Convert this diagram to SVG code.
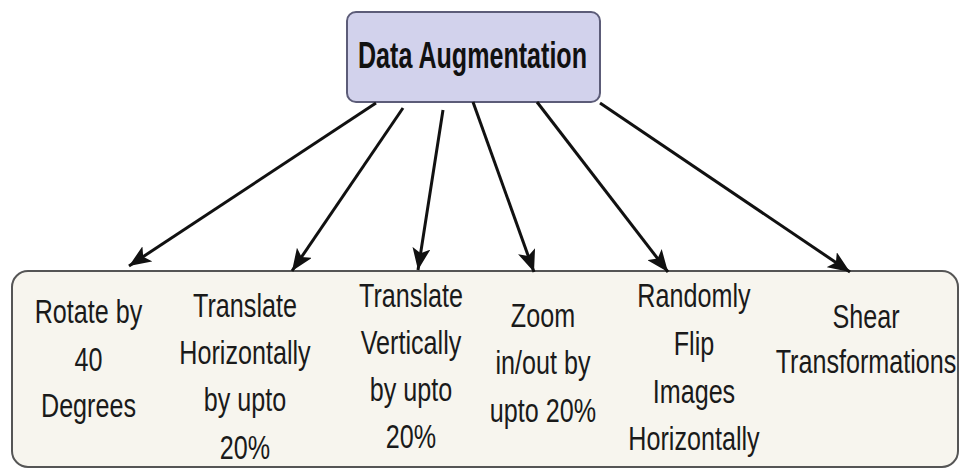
<svg xmlns="http://www.w3.org/2000/svg" width="961" height="470" viewBox="0 0 961 470">
  <defs>
    <style>
      .lbl { font-family: "Liberation Sans", Arial, sans-serif; font-size: 34px; fill: #1a1a1a; text-anchor: middle; }
      .title { font-family: "Liberation Sans", Arial, sans-serif; font-size: 36px; font-weight: bold; fill: #111111; text-anchor: middle; }
      .conn { stroke: #111111; stroke-width: 3; fill: none; marker-end: url(#arrow); }
    </style>
    <marker id="arrow" markerUnits="userSpaceOnUse" viewBox="0 0 22 18" markerWidth="22" markerHeight="18" refX="22" refY="9" orient="auto">
      <path d="M0,0 L22,9 L0,18 L5,9 Z" fill="#111111"/>
    </marker>
  </defs>
  <rect width="961" height="470" fill="#ffffff"/>

  <g id="node-data-augmentation">
    <rect x="347" y="12" width="253" height="90" rx="9" ry="9" fill="#d2d2ec" stroke="#5c5c78" stroke-width="2"/>
    <text class="title" x="472.5" y="68" textLength="229" lengthAdjust="spacingAndGlyphs">Data Augmentation</text>
  </g>

  <g id="node-techniques">
    <rect x="12" y="271" width="946" height="196" rx="16" ry="16" fill="#f7f5ee" stroke="#555555" stroke-width="2"/>
    <g transform="scale(0.74 1)">
      <g id="node-rotate">
        <text class="lbl" x="119.6" y="323">Rotate by</text>
        <text class="lbl" x="119.6" y="371">40</text>
        <text class="lbl" x="119.6" y="417">Degrees</text>
      </g>
      <g id="node-translate-h">
        <text class="lbl" x="331.1" y="317">Translate</text>
        <text class="lbl" x="331.1" y="364">Horizontally</text>
        <text class="lbl" x="331.1" y="411">by upto</text>
        <text class="lbl" x="331.1" y="459">20%</text>
      </g>
      <g id="node-translate-v">
        <text class="lbl" x="555.4" y="307">Translate</text>
        <text class="lbl" x="555.4" y="354">Vertically</text>
        <text class="lbl" x="555.4" y="401">by upto</text>
        <text class="lbl" x="555.4" y="448">20%</text>
      </g>
      <g id="node-zoom">
        <text class="lbl" x="733.8" y="327">Zoom</text>
        <text class="lbl" x="733.8" y="374">in/out by</text>
        <text class="lbl" x="733.8" y="422">upto 20%</text>
      </g>
      <g id="node-flip">
        <text class="lbl" x="937.8" y="307">Randomly</text>
        <text class="lbl" x="937.8" y="355">Flip</text>
        <text class="lbl" x="937.8" y="403">Images</text>
        <text class="lbl" x="937.8" y="450">Horizontally</text>
      </g>
      <g id="node-shear">
        <text class="lbl" x="1170.3" y="328">Shear</text>
        <text class="lbl" x="1170.3" y="373">Transformations</text>
      </g>
    </g>
  </g>

  <g id="connectors">
    <line class="conn" x1="376" y1="103" x2="129" y2="266"/>
    <line class="conn" x1="403" y1="108" x2="292" y2="271"/>
    <line class="conn" x1="443" y1="110" x2="418" y2="270"/>
    <line class="conn" x1="473" y1="102" x2="534" y2="272"/>
    <line class="conn" x1="537" y1="102" x2="668" y2="272"/>
    <line class="conn" x1="600" y1="103" x2="850" y2="272"/>
  </g>
</svg>
